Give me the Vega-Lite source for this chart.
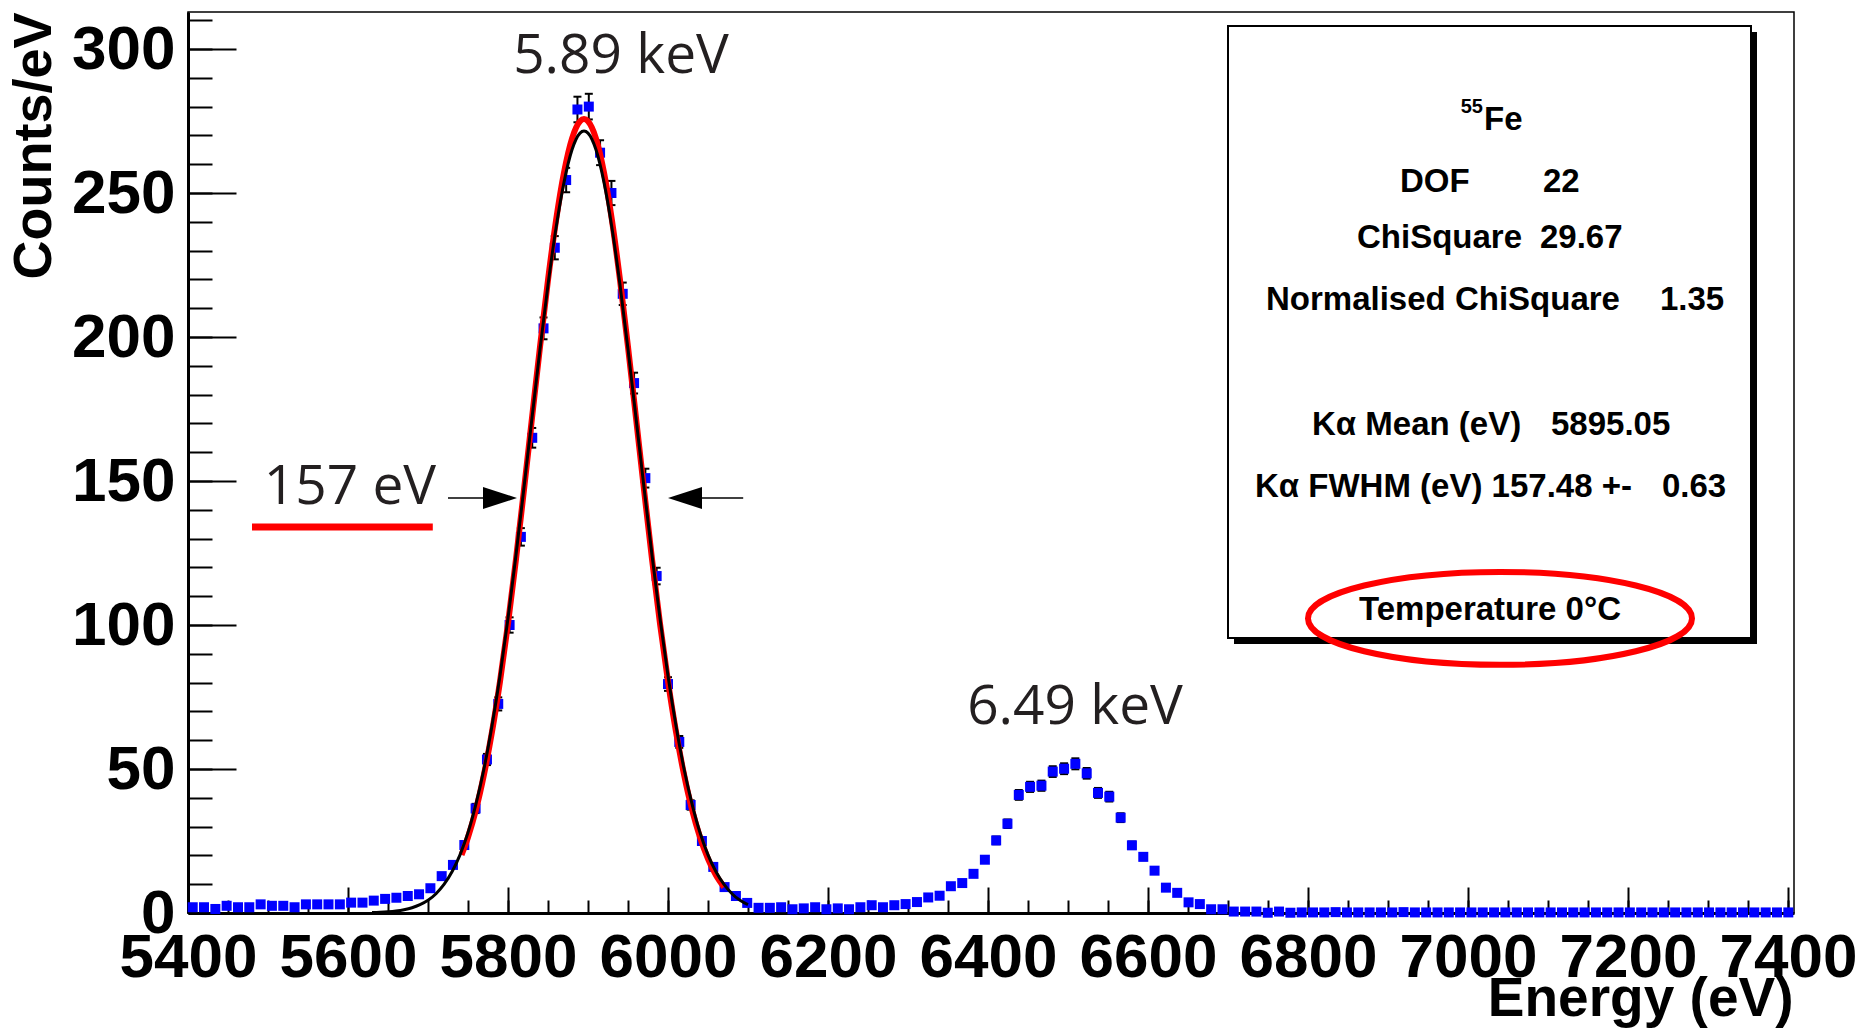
{
  "$schema": "https://vega.github.io/schema/vega-lite/v6.json",
  "width": 1606,
  "height": 901,
  "autosize": {"type": "none"},
  "padding": {"left": 188, "top": 12, "right": 82, "bottom": 121},
  "background": "#ffffff",
  "config": {
    "view": {"stroke": "#000000", "strokeWidth": 1.5},
    "axis": {"grid": false}
  },
  "datasets": {
    "hist": [
      {"e":5405.9,"c":2.0},{"e":5420.0,"c":2.0},{"e":5434.2,"c":1.4},{"e":5448.3,"c":2.5},{"e":5462.5,"c":2.0},
      {"e":5476.6,"c":2.0},{"e":5490.8,"c":3.0},{"e":5504.9,"c":2.5},{"e":5519.1,"c":2.5},{"e":5533.2,"c":2.0},
      {"e":5547.4,"c":3.0},{"e":5561.5,"c":3.0},{"e":5575.6,"c":3.0},{"e":5589.8,"c":3.0},{"e":5603.9,"c":3.6},
      {"e":5618.1,"c":3.6},{"e":5632.2,"c":4.3},{"e":5646.4,"c":4.9},{"e":5660.5,"c":5.3},{"e":5674.7,"c":5.9},
      {"e":5688.8,"c":6.5},{"e":5703.0,"c":8.6},{"e":5717.1,"c":12.8},{"e":5731.2,"c":16.7},{"e":5745.4,"c":23.6},
      {"e":5759.5,"c":36.3},{"e":5773.7,"c":53.3},{"e":5787.8,"c":72.6},{"e":5802.0,"c":100},{"e":5816.1,"c":130.6},
      {"e":5830.3,"c":165},{"e":5844.4,"c":203},{"e":5858.5,"c":231},{"e":5872.7,"c":254.5},{"e":5886.8,"c":279},
      {"e":5901.0,"c":280},{"e":5915.1,"c":264},{"e":5929.3,"c":250},{"e":5943.4,"c":215},{"e":5957.6,"c":184},
      {"e":5971.7,"c":151},{"e":5985.8,"c":117},{"e":6000.0,"c":79.5},{"e":6014.1,"c":59.4},{"e":6028.3,"c":37.5},
      {"e":6042.4,"c":25},{"e":6056.6,"c":16},{"e":6070.7,"c":9},{"e":6084.9,"c":5.9},{"e":6099.0,"c":3.5},
      {"e":6113.2,"c":1.8},{"e":6127.3,"c":1.8},{"e":6141.4,"c":2.0},{"e":6155.6,"c":1.3},{"e":6169.7,"c":1.6},
      {"e":6183.9,"c":2.0},{"e":6198.0,"c":1.3},{"e":6212.2,"c":1.6},{"e":6226.3,"c":1.3},{"e":6240.5,"c":2.0},
      {"e":6254.6,"c":2.7},{"e":6268.7,"c":2.0},{"e":6282.9,"c":2.7},{"e":6297.0,"c":3.1},{"e":6311.2,"c":3.8},
      {"e":6325.3,"c":5.4},{"e":6339.5,"c":6.0},{"e":6353.6,"c":9.3},{"e":6367.8,"c":10.4},{"e":6381.9,"c":13.6},
      {"e":6396.1,"c":18.5},{"e":6410.2,"c":25.2},{"e":6424.3,"c":31.0},{"e":6438.5,"c":41.0},{"e":6452.6,"c":43.8},
      {"e":6466.8,"c":44.2},{"e":6480.9,"c":49.1},{"e":6495.1,"c":50.1},{"e":6509.2,"c":51.8},{"e":6523.4,"c":48.5},
      {"e":6537.5,"c":41.7},{"e":6551.6,"c":40.4},{"e":6565.8,"c":33.1},{"e":6579.9,"c":23.5},{"e":6594.1,"c":19.5},
      {"e":6608.2,"c":14.7},{"e":6622.4,"c":8.8},{"e":6636.5,"c":7.0},{"e":6650.7,"c":3.7},{"e":6664.8,"c":3.1},
      {"e":6678.9,"c":1.3},{"e":6693.1,"c":1.3},{"e":6707.2,"c":0.5},{"e":6721.4,"c":0.5},{"e":6735.5,"c":0.5},
      {"e":6749.7,"c":0.1},{"e":6763.8,"c":0.5},{"e":6778.0,"c":0.1},{"e":6792.1,"c":0.2},{"e":6806.3,"c":0.2},
      {"e":6820.4,"c":0.2},{"e":6834.5,"c":0.3},{"e":6848.7,"c":0.2},{"e":6862.8,"c":0.2},{"e":6877.0,"c":0.2},
      {"e":6891.1,"c":0.2},{"e":6905.3,"c":0.2},{"e":6919.4,"c":0.3},{"e":6933.6,"c":0.2},{"e":6947.7,"c":0.2},
      {"e":6961.9,"c":0.2},{"e":6976.0,"c":0.2},{"e":6990.1,"c":0.2},{"e":7004.3,"c":0.2},{"e":7018.4,"c":0.2},
      {"e":7032.6,"c":0.2},{"e":7046.7,"c":0.2},{"e":7060.9,"c":0.2},{"e":7075.0,"c":0.2},{"e":7089.2,"c":0.2},
      {"e":7103.3,"c":0.2},{"e":7117.5,"c":0.2},{"e":7131.6,"c":0.2},{"e":7145.7,"c":0.2},{"e":7159.9,"c":0.2},
      {"e":7174.0,"c":0.2},{"e":7188.2,"c":0.2},{"e":7202.3,"c":0.2},{"e":7216.5,"c":0.2},{"e":7230.6,"c":0.2},
      {"e":7244.8,"c":0.2},{"e":7258.9,"c":0.2},{"e":7273.0,"c":0.2},{"e":7287.2,"c":0.2},{"e":7301.3,"c":0.2},
      {"e":7315.5,"c":0.2},{"e":7329.6,"c":0.2},{"e":7343.8,"c":0.2},{"e":7357.9,"c":0.2},{"e":7372.1,"c":0.2},
      {"e":7386.2,"c":0.2},{"e":7400.4,"c":0.2}
    ],
    "err": [
      {"e":5717.1,"lo":11.85,"hi":13.75},{"e":5731.2,"lo":15.61,"hi":17.79},{"e":5745.4,"lo":22.31,"hi":24.89},
      {"e":5759.5,"lo":34.70,"hi":37.90},{"e":5773.7,"lo":51.36,"hi":55.24},{"e":5787.8,"lo":70.33,"hi":74.87},
      {"e":5802.0,"lo":97.34,"hi":102.66},{"e":5816.1,"lo":127.56,"hi":133.64},{"e":5830.3,"lo":161.58,"hi":168.42},
      {"e":5844.4,"lo":199.21,"hi":206.79},{"e":5858.5,"lo":226.96,"hi":235.04},{"e":5872.7,"lo":250.26,"hi":258.74},
      {"e":5886.8,"lo":274.56,"hi":283.44},{"e":5901.0,"lo":275.55,"hi":284.45},{"e":5915.1,"lo":259.68,"hi":268.32},
      {"e":5929.3,"lo":245.80,"hi":254.20},{"e":5943.4,"lo":211.10,"hi":218.90},{"e":5957.6,"lo":180.39,"hi":187.61},
      {"e":5971.7,"lo":147.73,"hi":154.27},{"e":5985.8,"lo":114.12,"hi":119.88},{"e":6000.0,"lo":77.13,"hi":81.87},
      {"e":6014.1,"lo":57.35,"hi":61.45},{"e":6028.3,"lo":35.87,"hi":39.13},{"e":6042.4,"lo":23.67,"hi":26.33},
      {"e":6056.6,"lo":14.94,"hi":17.06},{"e":6070.7,"lo":8.20,"hi":9.80},
      {"e":6353.6,"lo":8.49,"hi":10.11},{"e":6367.8,"lo":9.54,"hi":11.26},{"e":6381.9,"lo":12.62,"hi":14.58},
      {"e":6396.1,"lo":17.36,"hi":19.64},{"e":6410.2,"lo":23.87,"hi":26.54},{"e":6424.3,"lo":29.52,"hi":32.48},
      {"e":6438.5,"lo":39.30,"hi":42.70},{"e":6452.6,"lo":42.04,"hi":45.56},{"e":6466.8,"lo":42.43,"hi":45.97},
      {"e":6480.9,"lo":47.24,"hi":50.96},{"e":6495.1,"lo":48.22,"hi":51.98},{"e":6509.2,"lo":49.89,"hi":53.71},
      {"e":6523.4,"lo":46.65,"hi":50.35},{"e":6537.5,"lo":39.98,"hi":43.42},{"e":6551.6,"lo":38.71,"hi":42.09},
      {"e":6565.8,"lo":31.57,"hi":34.63},{"e":6579.9,"lo":22.21,"hi":24.79},{"e":6594.1,"lo":18.33,"hi":20.67},
      {"e":6608.2,"lo":13.68,"hi":15.72},{"e":6622.4,"lo":8.01,"hi":9.59}
    ],
    "red": [
      {"e":5742,"c":20.2},{"e":5750,"c":26.3},{"e":5760,"c":35.9},{"e":5770,"c":48.1},{"e":5780,"c":62.9},
      {"e":5790,"c":80.4},{"e":5800,"c":100.5},{"e":5810,"c":122.9},{"e":5820,"c":147.0},{"e":5830,"c":171.9},
      {"e":5840,"c":196.6},{"e":5850,"c":219.8},{"e":5860,"c":240.4},{"e":5870,"c":257.1},{"e":5880,"c":268.9},
      {"e":5890,"c":274.9},{"e":5895,"c":275.7},{"e":5900,"c":274.9},{"e":5910,"c":268.9},{"e":5920,"c":257.1},
      {"e":5930,"c":240.4},{"e":5940,"c":219.8},{"e":5950,"c":196.6},{"e":5960,"c":171.9},{"e":5970,"c":147.0},
      {"e":5980,"c":122.9},{"e":5990,"c":100.5},{"e":6000,"c":80.4},{"e":6010,"c":62.9},{"e":6020,"c":48.1},
      {"e":6030,"c":35.9},{"e":6040,"c":26.3},{"e":6050,"c":18.8},{"e":6060,"c":13.1},{"e":6070,"c":9.0}
    ],
    "black": [
      {"e":5630,"c":0.14},{"e":5640,"c":0.24},{"e":5650,"c":0.41},{"e":5660,"c":0.69},{"e":5670,"c":1.14},
      {"e":5680,"c":1.83},{"e":5690,"c":2.9},{"e":5700,"c":4.4},{"e":5710,"c":6.7},{"e":5720,"c":9.9},
      {"e":5730,"c":14.3},{"e":5740,"c":20.2},{"e":5750,"c":27.9},{"e":5760,"c":37.9},{"e":5770,"c":50.1},
      {"e":5780,"c":65.0},{"e":5790,"c":82.4},{"e":5800,"c":102.3},{"e":5810,"c":124.3},{"e":5820,"c":147.8},
      {"e":5830,"c":171.9},{"e":5840,"c":195.8},{"e":5850,"c":218.1},{"e":5860,"c":237.8},{"e":5870,"c":253.7},
      {"e":5880,"c":265.0},{"e":5890,"c":270.8},{"e":5895,"c":271.5},{"e":5900,"c":270.8},{"e":5910,"c":265.0},
      {"e":5920,"c":253.7},{"e":5930,"c":237.8},{"e":5940,"c":218.1},{"e":5950,"c":195.8},{"e":5960,"c":171.9},
      {"e":5970,"c":147.8},{"e":5980,"c":124.3},{"e":5990,"c":102.3},{"e":6000,"c":82.4},{"e":6010,"c":65.0},
      {"e":6020,"c":50.1},{"e":6030,"c":37.9},{"e":6040,"c":27.9},{"e":6050,"c":20.2},{"e":6060,"c":14.3},
      {"e":6070,"c":9.9},{"e":6080,"c":6.7},{"e":6090,"c":4.4},{"e":6100,"c":2.9}
    ],
    "shadow": [{"x1":6707.5,"x2":7361.25,"y1":305.9,"y2":93.4}],
    "box": [{"x1":6700,"x2":7353.75,"y1":308.0,"y2":95.5}],
    "boxtext": [
      {"x":7020,"y":271.9,"t":"Fe"},
      {"x":6915,"y":250.3,"t":"DOF"},
      {"x":7093.75,"y":250.3,"t":"22"},
      {"x":6861.25,"y":230.9,"t":"ChiSquare"},
      {"x":7090,"y":230.9,"t":"29.67"},
      {"x":6747.5,"y":209.4,"t":"Normalised ChiSquare"},
      {"x":7240,"y":209.4,"t":"1.35"},
      {"x":6805,"y":166.0,"t":"Kα Mean (eV)"},
      {"x":7103.75,"y":166.0,"t":"5895.05"},
      {"x":6733.75,"y":144.4,"t":"Kα FWHM (eV) 157.48 +-"},
      {"x":7242.5,"y":144.4,"t":"0.63"},
      {"x":6863.75,"y":101.7,"t":"Temperature 0°C"}
    ],
    "sup": [{"x":7018.75,"y":277.8,"t":"55"}],
    "notes": [
      {"x":5941.25,"y":291.7,"t":"5.89 keV"},
      {"x":6508.75,"y":65.6,"t":"6.49 keV"},
      {"x":5602.5,"y":142.0,"t":"157 eV"}
    ],
    "underline": [{"x1":5480,"x2":5706,"y":134.0}],
    "arrowlines": [{"x1":5725,"x2":5769,"y":144.1},{"x1":6042.5,"x2":6094,"y":144.1}],
    "headR": [{"x":5790,"y":144.1}],
    "headL": [{"x":6021.25,"y":144.1}],
    "ellipse": [{"x":7040,"y":102.3}]
  },
  "layer": [
    {
      "data": {"name": "err"},
      "mark": {"type": "rule", "color": "#000000", "strokeWidth": 2},
      "encoding": {
        "x": {"field": "e", "type": "quantitative", "scale": {"domain": [5400, 7407.5], "nice": false, "zero": false},
              "axis": {"orient": "bottom", "values": [5400,5450,5500,5550,5600,5650,5700,5750,5800,5850,5900,5950,6000,6050,6100,6150,6200,6250,6300,6350,6400,6450,6500,6550,6600,6650,6700,6750,6800,6850,6900,6950,7000,7050,7100,7150,7200,7250,7300,7350,7400],
                       "labels": false, "domain": false, "grid": false, "ticks": true, "tickSize": -13, "tickWidth": 2, "tickColor": "#000000", "title": null}},
        "y": {"field": "lo", "type": "quantitative", "scale": {"domain": [0, 312.85], "nice": false, "zero": false},
              "axis": {"orient": "left", "values": [0,10,20,30,40,50,60,70,80,90,100,110,120,130,140,150,160,170,180,190,200,210,220,230,240,250,260,270,280,290,300,310],
                       "labels": false, "domain": false, "grid": false, "ticks": true, "tickSize": -24, "tickWidth": 2, "tickColor": "#000000", "title": null}},
        "y2": {"field": "hi"}
      }
    },
    {
      "data": {"name": "err"},
      "mark": {"type": "tick", "orient": "horizontal", "color": "#000000", "thickness": 2, "size": 8, "opacity": 1},
      "encoding": {
        "x": {"field": "e", "type": "quantitative", "axis": null},
        "y": {"field": "lo", "type": "quantitative", "axis": null}
      }
    },
    {
      "data": {"name": "err"},
      "mark": {"type": "tick", "orient": "horizontal", "color": "#000000", "thickness": 2, "size": 8, "opacity": 1},
      "encoding": {
        "x": {"field": "e", "type": "quantitative", "axis": null},
        "y": {"field": "hi", "type": "quantitative", "axis": null}
      }
    },
    {
      "data": {"name": "hist"},
      "mark": {"type": "square", "size": 100, "color": "#0000ff", "opacity": 1},
      "encoding": {
        "x": {"field": "e", "type": "quantitative",
              "axis": {"orient": "bottom", "values": [5400,5600,5800,6000,6200,6400,6600,6800,7000,7200,7400], "format": "d",
                       "grid": false, "domain": true, "domainColor": "#000000", "domainWidth": 3,
                       "ticks": true, "tickSize": -26, "tickWidth": 2, "tickColor": "#000000",
                       "labelFont": "Liberation Sans", "labelFontWeight": "bold", "labelFontSize": 62, "labelColor": "#000000",
                       "labelPadding": 40, "labelFlush": false, "labelOverlap": false, "labelBound": false,
                       "title": "Energy (eV)", "titleFont": "Liberation Sans", "titleFontWeight": "bold", "titleFontSize": 55, "titleColor": "#000000",
                       "titleAlign": "right", "titleBaseline": "alphabetic", "titleX": 1605, "titleY": 102}},
        "y": {"field": "c", "type": "quantitative",
              "axis": {"orient": "left", "values": [0,50,100,150,200,250,300], "format": "d",
                       "grid": false, "domain": true, "domainColor": "#000000", "domainWidth": 3,
                       "ticks": true, "tickSize": -48, "tickWidth": 2, "tickColor": "#000000",
                       "labelFont": "Liberation Sans", "labelFontWeight": "bold", "labelFontSize": 62, "labelColor": "#000000",
                       "labelPadding": 61, "labelFlush": false, "labelOverlap": false, "labelBound": false,
                       "title": "Counts/eV", "titleFont": "Liberation Sans", "titleFontWeight": "bold", "titleFontSize": 54, "titleColor": "#000000",
                       "titleAngle": -90, "titleAlign": "right", "titleBaseline": "middle", "titleX": -154, "titleY": 0}}
      }
    },
    {
      "data": {"name": "red"},
      "mark": {"type": "line", "color": "#ff0000", "strokeWidth": 6, "interpolate": "monotone"},
      "encoding": {
        "x": {"field": "e", "type": "quantitative", "axis": null},
        "y": {"field": "c", "type": "quantitative", "axis": null}
      }
    },
    {
      "data": {"name": "black"},
      "mark": {"type": "line", "color": "#000000", "strokeWidth": 3, "interpolate": "monotone"},
      "encoding": {
        "x": {"field": "e", "type": "quantitative", "axis": null},
        "y": {"field": "c", "type": "quantitative", "axis": null}
      }
    },
    {
      "data": {"name": "shadow"},
      "mark": {"type": "rect", "color": "#000000"},
      "encoding": {
        "x": {"field": "x1", "type": "quantitative", "axis": null},
        "x2": {"field": "x2"},
        "y": {"field": "y1", "type": "quantitative", "axis": null},
        "y2": {"field": "y2"}
      }
    },
    {
      "data": {"name": "box"},
      "mark": {"type": "rect", "fill": "#ffffff", "stroke": "#000000", "strokeWidth": 2},
      "encoding": {
        "x": {"field": "x1", "type": "quantitative", "axis": null},
        "x2": {"field": "x2"},
        "y": {"field": "y1", "type": "quantitative", "axis": null},
        "y2": {"field": "y2"}
      }
    },
    {
      "data": {"name": "boxtext"},
      "mark": {"type": "text", "font": "Liberation Sans", "fontWeight": "bold", "fontSize": 33, "color": "#000000", "align": "left", "baseline": "alphabetic"},
      "encoding": {
        "x": {"field": "x", "type": "quantitative", "axis": null},
        "y": {"field": "y", "type": "quantitative", "axis": null},
        "text": {"field": "t"}
      }
    },
    {
      "data": {"name": "sup"},
      "mark": {"type": "text", "font": "Liberation Sans", "fontWeight": "bold", "fontSize": 20, "color": "#000000", "align": "right", "baseline": "alphabetic"},
      "encoding": {
        "x": {"field": "x", "type": "quantitative", "axis": null},
        "y": {"field": "y", "type": "quantitative", "axis": null},
        "text": {"field": "t"}
      }
    },
    {
      "data": {"name": "notes"},
      "mark": {"type": "text", "font": "Open Sans", "fontSize": 55, "color": "#231f20", "align": "center", "baseline": "alphabetic"},
      "encoding": {
        "x": {"field": "x", "type": "quantitative", "axis": null},
        "y": {"field": "y", "type": "quantitative", "axis": null},
        "text": {"field": "t"}
      }
    },
    {
      "data": {"name": "underline"},
      "mark": {"type": "rule", "color": "#ff0000", "strokeWidth": 7},
      "encoding": {
        "x": {"field": "x1", "type": "quantitative", "axis": null},
        "x2": {"field": "x2"},
        "y": {"field": "y", "type": "quantitative", "axis": null}
      }
    },
    {
      "data": {"name": "arrowlines"},
      "mark": {"type": "rule", "color": "#000000", "strokeWidth": 1.5},
      "encoding": {
        "x": {"field": "x1", "type": "quantitative", "axis": null},
        "x2": {"field": "x2"},
        "y": {"field": "y", "type": "quantitative", "axis": null}
      }
    },
    {
      "data": {"name": "headR"},
      "mark": {"type": "point", "shape": "M1,0L-1,-0.65L-1,0.65Z", "size": 1156, "filled": true, "color": "#000000", "opacity": 1},
      "encoding": {
        "x": {"field": "x", "type": "quantitative", "axis": null},
        "y": {"field": "y", "type": "quantitative", "axis": null}
      }
    },
    {
      "data": {"name": "headL"},
      "mark": {"type": "point", "shape": "M-1,0L1,-0.65L1,0.65Z", "size": 1156, "filled": true, "color": "#000000", "opacity": 1},
      "encoding": {
        "x": {"field": "x", "type": "quantitative", "axis": null},
        "y": {"field": "y", "type": "quantitative", "axis": null}
      }
    },
    {
      "data": {"name": "ellipse"},
      "mark": {"type": "point", "shape": "M1,0C1,0.1337 0.5523,0.242 0,0.242C-0.5523,0.242 -1,0.1337 -1,0C-1,-0.1337 -0.5523,-0.242 0,-0.242C0.5523,-0.242 1,-0.1337 1,0Z", "size": 147456, "filled": false, "stroke": "#ff0000", "strokeWidth": 6, "opacity": 1},
      "encoding": {
        "x": {"field": "x", "type": "quantitative", "axis": null},
        "y": {"field": "y", "type": "quantitative", "axis": null}
      }
    }
  ],
  "resolve": {"axis": {"x": "independent", "y": "independent"}}
}
